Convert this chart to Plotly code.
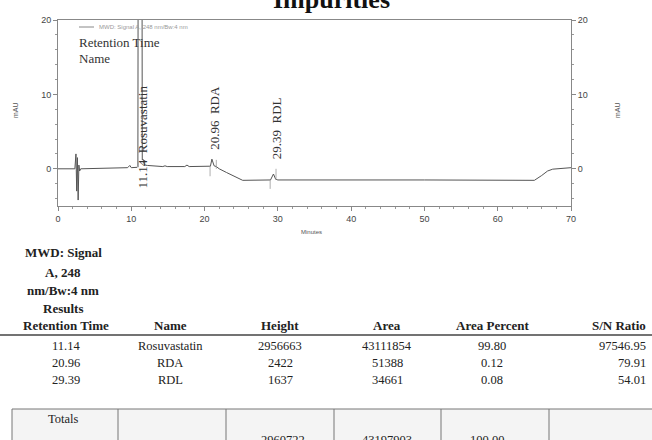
import plotly.graph_objects as go

# ---------------- data ----------------
# chromatogram trace (minutes, mAU)
trace_time = [0, 2.3, 2.45, 2.55, 2.65, 2.75, 2.85, 2.95, 3.1, 5, 9.5, 9.8, 10.0, 10.8,
              10.9, 10.95, 11.45, 11.5, 11.6, 11.75, 11.9, 12.2, 14.3, 14.6, 14.9, 17.3,
              17.6, 17.9, 20.6, 20.8, 21.0, 21.3, 21.6, 22.0, 23.0, 24.0, 25.2, 29.0,
              29.4, 29.7, 30.0, 50.0, 65.0, 66.0, 66.8, 67.5, 70.0]
trace_mau = [0.0, 0.0, 2.0, -3.0, 1.5, -4.2, 0.5, -0.3, 0.0, 0.05, 0.15, 0.45, 0.15, 0.2,
             0.3, 40.0, 40.0, 1.2, 1.3, 0.7, 0.5, 0.45, 0.3, 0.4, 0.3, 0.3,
             0.5, 0.3, 0.3, 0.35, 1.3, 0.4, 0.3, 0.0, -0.5, -1.0, -1.55, -1.5,
             -0.7, -1.4, -1.5, -1.5, -1.55, -0.9, -0.3, -0.05, 0.15]
# integration marker ticks (minutes, from mAU, to mAU)
mark_time = [10.95, 20.75, 21.6, 28.95, 29.75]
mark_from = [0.2, -1.0, 0.0, -2.7, -1.5]
mark_to = [1.0, 0.4, 1.2, -1.5, 0.0]

x_ticks = [0, 10, 20, 30, 40, 50, 60, 70]
y_ticks = [0, 10, 20]

ret_time = ["11.14", "20.96", "29.39"]
ret_time_num = [11.14, 20.96, 29.39]
names = ["Rosuvastatin", "RDA", "RDL"]
heights = ["2956663", "2422", "1637"]
areas = ["43111854", "51388", "34661"]
area_pct = ["99.80", "0.12", "0.08"]
sn_ratio = ["97546.95", "79.91", "54.01"]
headers = ["Retention Time", "Name", "Height", "Area", "Area Percent", "S/N Ratio"]
totals = ["Totals", "", "2960722", "43197903", "100.00", ""]
signal_label = ["MWD: Signal", "A, 248", "nm/Bw:4 nm", "Results"]
label_y = [4.3, 6.8, 5.5]

W, H = 652, 440
def px(x):
    return x / W
def py(y):
    return 1 - y / H

SERIF = "Liberation Serif, Times New Roman, serif"
SANS = "Arial, Liberation Sans, sans-serif"

fig = go.Figure()
fig.add_trace(go.Scatter(x=trace_time, y=trace_mau, mode="lines",
                         line=dict(color="#555555", width=1), showlegend=False,
                         hoverinfo="skip"))
mx, my = [], []
for t, a, b in zip(mark_time, mark_from, mark_to):
    mx += [t, t, None]
    my += [a, b, None]
fig.add_trace(go.Scatter(x=mx, y=my, mode="lines", line=dict(color="#999999", width=0.8),
                         showlegend=False, hoverinfo="skip"))
# invisible trace for right axis
fig.add_trace(go.Scatter(x=[0], y=[0], yaxis="y2", mode="markers",
                         marker=dict(opacity=0), showlegend=False, hoverinfo="skip"))

ann = []
shapes = []

def note(x, y, text, size, family=SERIF, color="#222222", xanchor="center", yanchor="middle", **kw):
    ann.append(dict(x=px(x), y=py(y), xref="paper", yref="paper", text=text, showarrow=False,
                    xanchor=xanchor, yanchor=yanchor,
                    font=dict(family=family, size=size, color=color), **kw))

# peak labels
for rt, rtn, nm, ly in zip(ret_time, ret_time_num, names, label_y):
    ann.append(dict(x=rtn, y=ly, xref="x", yref="y", text=f"{rt}  {nm}", textangle=-90,
                    xanchor="center", yanchor="middle",
                    showarrow=False, xshift=3, font=dict(family=SERIF, size=13, color="#333333")))

# in-plot legend-ish texts
shapes.append(dict(type="line", xref="paper", yref="paper", x0=px(79), x1=px(94),
                   y0=py(27), y1=py(27), line=dict(color="#888888", width=1)))
note(97, 27, "MWD: Signal A, 248 nm/Bw:4 nm", 6, family=SANS, color="#999999", xanchor="left")
note(77, 42, "Retention Time", 13, color="#333333", xanchor="left")
note(77, 58, "Name", 13, color="#333333", xanchor="left")

# axis titles
for xx in (15, 617):
    note(xx, 110, "mAU", 7, family=SANS, color="#555555", textangle=-90)
note(311, 232, "Minutes", 6, family=SANS, color="#555555")

# title (cut off at top)
note(332, -1, "<b>Impurities</b>", 26, color="#111111")

# signal label block
for txt, yy in zip(signal_label, [253, 272, 290, 308]):
    note(63, yy, f"<b>{txt}</b>", 13)

# table
col_x = [66, 170, 280, 387, 492, 648]
col_anchor = ["center", "center", "center", "center", "center", "right"]
for h, cx, an in zip(headers, col_x, col_anchor):
    note(cx, 325, f"<b>{h}</b>", 13, xanchor=an)
shapes.append(dict(type="line", xref="paper", yref="paper", x0=0, x1=1, y0=py(335), y1=py(335),
                   line=dict(color="#444444", width=1.5)))
rows_y = [346, 363, 380]
for i, ry in enumerate(rows_y):
    vals = [ret_time[i], names[i], heights[i], areas[i], area_pct[i], sn_ratio[i]]
    for v, cx, an in zip(vals, col_x, col_anchor):
        note(cx, ry, v, 12.5, xanchor=an)

# totals box
shapes.append(dict(type="rect", xref="paper", yref="paper", x0=px(12), x1=px(660), y0=py(409), y1=py(460),
                   line=dict(color="#777777", width=1), fillcolor="#f4f4f4", layer="below"))
for vx in [118, 226, 334, 441, 549]:
    shapes.append(dict(type="line", xref="paper", yref="paper", x0=px(vx), x1=px(vx), y0=py(409), y1=py(460),
                       line=dict(color="#777777", width=1)))
tot_y = [419, 440, 440, 440, 440, 440]
tot_x = [63, 172, 283, 387, 487, 600]
for v, cx, ty in zip(totals, tot_x, tot_y):
    if v:
        note(cx, ty, v, 12.5)

axis_common = dict(showgrid=False, zeroline=False, ticks="outside", ticklen=4, tickcolor="#888888",
                   showline=True, linecolor="#888888", linewidth=1, automargin=False,
                   tickfont=dict(family=SANS, size=9, color="#444444"))
fig.update_layout(
    width=W, height=H, autosize=False,
    margin=dict(l=0, r=0, t=0, b=0, pad=0),
    paper_bgcolor="white", plot_bgcolor="white",
    showlegend=False,
    xaxis=dict(domain=[px(58), px(571)], range=[0, 70], tickvals=x_ticks, mirror=True,
               minor=dict(dtick=2, ticks="outside", ticklen=2, tickcolor="#999999"),
               anchor="y", **axis_common),
    yaxis=dict(domain=[py(206), py(20)], range=[-5, 20], tickvals=y_ticks,
               minor=dict(dtick=2, ticks="outside", ticklen=2, tickcolor="#999999"),
               anchor="x", **axis_common),
    yaxis2=dict(overlaying="y", side="right", range=[-5, 20], tickvals=y_ticks, anchor="x",
                minor=dict(dtick=2, ticks="outside", ticklen=2, tickcolor="#999999"),
                **axis_common),
    annotations=ann,
    shapes=shapes,
)

fig.write_html("out.html", config={"displayModeBar": False},
               post_script="document.body.style.margin='0px';document.body.style.padding='0px';")
